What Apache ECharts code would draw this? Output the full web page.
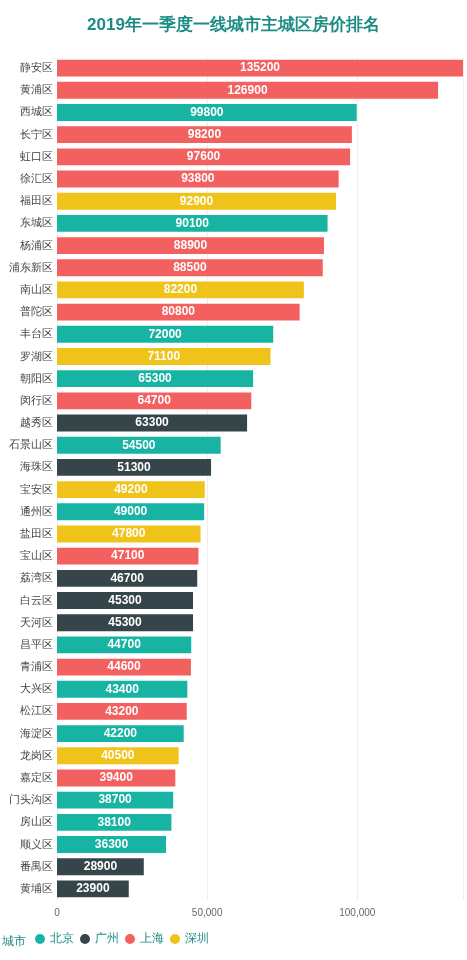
<!DOCTYPE html>
<html><head><meta charset="utf-8">
<script src="https://cdn.jsdelivr.net/npm/echarts@6/dist/echarts.min.js"></script>
<style>html,body{margin:0;padding:0;background:#fff}#c{width:467px;height:960px}</style>
</head><body><div id="c"></div>
<script>
const districts=["静安区","黄浦区","西城区","长宁区","虹口区","徐汇区","福田区","东城区","杨浦区","浦东新区","南山区","普陀区","丰台区","罗湖区","朝阳区","闵行区","越秀区","石景山区","海珠区","宝安区","通州区","盐田区","宝山区","荔湾区","白云区","天河区","昌平区","青浦区","大兴区","松江区","海淀区","龙岗区","嘉定区","门头沟区","房山区","顺义区","番禺区","黄埔区"];
const prices=[135200,126900,99800,98200,97600,93800,92900,90100,88900,88500,82200,80800,72000,71100,65300,64700,63300,54500,51300,49200,49000,47800,47100,46700,45300,45300,44700,44600,43400,43200,42200,40500,39400,38700,38100,36300,28900,23900];
const cityOf=["上海","上海","北京","上海","上海","上海","深圳","北京","上海","上海","深圳","上海","北京","深圳","北京","上海","广州","北京","广州","深圳","北京","深圳","上海","广州","广州","广州","北京","上海","北京","上海","北京","深圳","上海","北京","北京","北京","广州","广州"];
const cities=["北京","广州","上海","深圳"];
const colors=["#17b3a3","#36454a","#f2605f","#f0c31a"];
const series=cities.map((c,i)=>({
  name:c,type:'bar',stack:'a',barWidth:'76%',
  itemStyle:{color:colors[i]},
  label:{show:true,position:'inside',color:'#fff',fontWeight:'bold',fontSize:12,formatter:p=>p.value==null?'':p.value},
  data:prices.map((v,j)=>cityOf[j]===c?v:null)
}));
const chart=echarts.init(document.getElementById('c'));
chart.setOption({
  title:{text:'2019年一季度一线城市主城区房价排名',left:'center',top:12,textStyle:{color:'#1d8c84',fontSize:17,fontWeight:'bold'}},
  legend:{data:cities,left:30,bottom:10,icon:'circle',itemWidth:10,itemHeight:10,itemGap:6,textStyle:{color:'#1d8c84',fontSize:12}},
  graphic:[{type:'text',left:2,bottom:12,style:{text:'城市',fill:'#1d8c84',fontSize:12}}],
  grid:{left:57,right:4,top:57,bottom:60,containLabel:false},
  xAxis:{type:'value',min:0,max:135200,interval:50000,axisLine:{show:false},axisTick:{show:false},
    axisLabel:{color:'#666',fontSize:10,showMaxLabel:false},splitLine:{lineStyle:{color:'#eee'}}},
  yAxis:{type:'category',inverse:true,data:districts,axisTick:{show:false},axisLine:{show:false},
    axisLabel:{color:'#444',fontSize:11,margin:4}},
  series
});
</script></body></html>
